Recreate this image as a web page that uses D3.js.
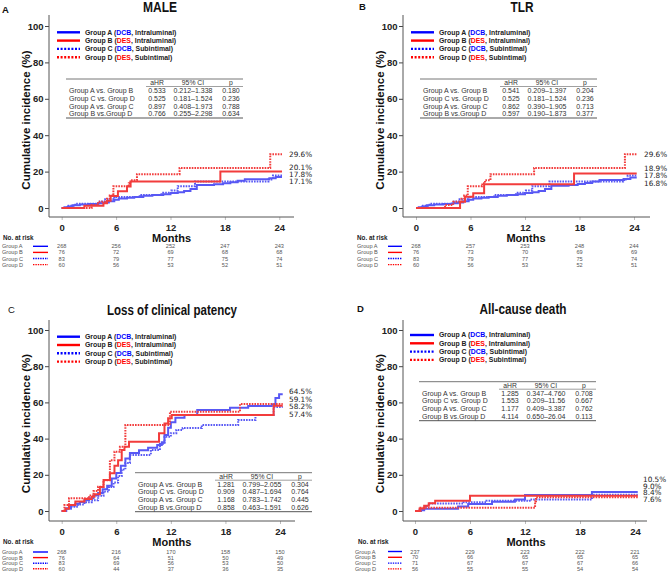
<!DOCTYPE html>
<html><head><meta charset="utf-8">
<script src="https://cdn.jsdelivr.net/npm/d3@7"></script>
<style>body{margin:0;background:#fff}svg{display:block}</style>
</head><body>
<script>
// ---------------- DATA ----------------
const months = [0, 6, 12, 18, 24];
const yTicks = [0, 20, 40, 60, 80, 100];
const groups = ["Group A", "Group B", "Group C", "Group D"];
const legendDevice = ["DCB", "DES", "DCB", "DES"];
const legendRoute = ["Intraluminal", "Intraluminal", "Subintimal", "Subintimal"];
const tableHeader = ["aHR", "95% CI", "p"];
const panelTitles = ["MALE", "TLR", "Loss of clinical patency", "All-cause death"];
const panelLetters = ["A", "B", "C", "D"];

// step curves: [month, cumulative %]
const maleA = [[0,0],[0.3,0.4],[0.7,0.8],[1.2,1.5],[2.0,1.9],[3.0,2.2],[4.0,2.6],[4.6,3.0],[5.2,3.7],[5.8,4.5],[6.3,5.2],[7.2,5.6],[8.0,6.0],[9.0,6.7],[10.0,7.1],[11.0,7.5],[12.0,8.2],[12.8,8.6],[13.5,9.3],[14.2,10.4],[14.9,12.6],[16.8,13.0],[17.8,13.6],[18.6,14.2],[19.4,15.0],[20.2,15.8],[22.9,16.4],[23.6,17.1],[24.3,17.1]];
const maleB = [[0,0],[2.5,1.3],[4.6,2.6],[5.0,4.0],[5.4,6.6],[6.2,9.2],[7.2,11.8],[7.6,14.5],[17.5,20.1],[24.3,20.1]];
const maleC = [[0,0],[0.6,1.2],[1.5,2.4],[4.2,3.6],[4.8,4.8],[5.8,6.0],[8.6,7.2],[11.2,8.4],[12.1,9.6],[12.8,12.0],[14.7,14.5],[22.8,15.7],[23.3,17.8],[24.3,17.8]];
const maleD = [[0,0],[3.3,1.7],[4.0,3.4],[5.0,5.1],[5.3,6.8],[5.7,11.9],[7.4,13.6],[7.6,15.3],[8.3,18.6],[13.0,22.0],[23.0,29.6],[24.3,29.6]];

const tlrA = [[0,0],[0.3,0.4],[0.7,0.8],[1.2,1.5],[2.0,1.9],[3.0,2.2],[4.0,2.6],[4.6,3.0],[5.2,3.7],[5.8,4.5],[6.3,5.2],[7.2,5.6],[8.0,6.0],[9.0,6.7],[10.0,7.1],[11.0,7.5],[12.0,8.2],[12.8,8.6],[13.5,9.3],[14.2,10.4],[14.9,12.2],[16.8,12.6],[17.8,13.2],[18.6,13.8],[19.4,14.6],[20.2,15.4],[22.9,16.0],[23.6,16.8],[24.3,16.8]];
const tlrB = [[0,0],[4.85,3.5],[5.4,6.2],[6.3,8.1],[7.5,13.0],[17.4,18.9],[24.3,18.9]];
const tlrC = [[0,0],[0.6,1.2],[1.5,2.4],[4.2,3.6],[4.8,4.8],[5.8,6.0],[8.6,7.2],[11.2,8.4],[12.1,9.6],[12.8,12.0],[14.7,14.5],[22.8,15.7],[23.3,17.8],[24.3,17.8]];
const tlrD = [[0,0],[3.2,1.7],[4.1,3.4],[5.0,5.1],[5.3,6.8],[5.7,11.9],[7.3,13.6],[7.6,15.3],[8.2,18.6],[13.0,22.0],[23.0,29.6],[24.3,29.6]];

const lcpA = [[0,0],[0.5,1.5],[1.0,3.0],[1.5,4.0],[2.0,5.0],[2.5,6.0],[3.0,7.0],[3.5,8.5],[4.0,10.0],[4.5,12.0],[5.0,14.0],[5.5,18.0],[6.0,21.0],[6.5,25.0],[7.0,29.0],[7.5,32.0],[8.5,33.5],[9.5,35.0],[10.5,36.5],[11.0,38.0],[11.3,42.0],[11.7,46.0],[12.0,49.0],[12.5,51.5],[13.5,53.0],[14.9,55.8],[18.5,57.0],[20.5,58.0],[23.1,59.0],[23.5,62.4],[23.9,64.5],[24.3,64.5]];
const lcpB = [[0,0],[0.4,1.3],[0.8,3.3],[1.5,5.3],[2.5,6.6],[3.3,7.9],[3.6,9.2],[4.2,13.2],[4.6,17.1],[5.3,20.8],[5.8,25.0],[6.2,28.0],[6.6,33.7],[6.9,35.5],[7.4,38.3],[10.7,42.9],[11.3,48.4],[11.7,51.2],[12.1,53.0],[23.3,58.2],[24.3,58.2]];
const lcpC = [[0,0],[0.5,1.2],[1.0,2.4],[1.8,3.6],[2.5,4.8],[3.3,6.0],[4.0,8.4],[4.6,10.8],[5.2,13.3],[5.7,15.7],[6.2,19.3],[6.6,22.9],[7.0,26.5],[7.5,31.0],[9.8,33.7],[10.8,37.0],[11.3,41.0],[12.0,43.0],[12.6,44.8],[13.3,45.8],[15.4,47.5],[19.4,50.3],[21.3,53.0],[23.3,57.4],[24.3,57.4]];
const lcpD = [[0,0],[0.3,3.3],[0.8,7.0],[3.0,8.5],[3.5,11.0],[4.0,13.4],[4.6,17.0],[5.3,28.0],[5.8,32.8],[6.4,35.5],[7.0,47.5],[11.9,54.9],[19.6,59.1],[24.3,59.1]];

const deathA = [[0,0],[0.5,0.4],[1.0,1.3],[4.7,2.5],[5.8,3.8],[8.4,5.1],[10.9,6.4],[12.0,8.8],[19.3,10.5],[24.3,10.5]];
const deathB = [[0,0],[0.5,1.4],[1.0,2.9],[1.5,4.3],[2.2,5.7],[6.0,8.4],[24.3,8.4]];
const deathC = [[0,0],[0.8,1.4],[1.1,2.8],[1.5,4.2],[5.3,4.9],[7.8,5.6],[12.5,6.3],[19.3,9.0],[24.3,9.0]];
const deathD = [[0,0],[0.6,1.8],[13.1,5.4],[13.2,7.6],[24.3,7.6]];

// final cumulative incidence labels (A, B, C, D)
const maleEnd = [17.1, 20.1, 17.8, 29.6];
const tlrEnd = [16.8, 18.9, 17.8, 29.6];
const lcpEnd = [64.5, 58.2, 57.4, 59.1];
const deathEnd = [10.5, 8.4, 9.0, 7.6];

// hazard ratio tables
const hrRows = ["Group A vs. Group B", "Group C vs. Group D", "Group A vs. Group C", "Group B vs.Group D"];
const maleHR = [["0.533","0.212\u20131.338","0.180"],["0.525","0.181\u20131.524","0.236"],["0.897","0.408\u20131.973","0.788"],["0.766","0.255\u20132.298","0.634"]];
const tlrHR = [["0.541","0.209\u20131.397","0.204"],["0.525","0.181\u20131.524","0.236"],["0.862","0.390\u20131.905","0.713"],["0.597","0.190\u20131.873","0.377"]];
const lcpHR = [["1.281","0.799\u20132.055","0.304"],["0.909","0.487\u20131.694","0.764"],["1.168","0.783\u20131.742","0.445"],["0.858","0.463\u20131.591","0.626"]];
const deathHR = [["1.285","0.347\u20134.760","0.708"],["1.553","0.209\u201311.56","0.667"],["1.177","0.409\u20133.387","0.762"],["4.114","0.650\u201326.04","0.113"]];

// numbers at risk
const maleRisk = [[268,256,252,247,243],[76,72,69,68,68],[83,79,77,75,74],[60,56,53,52,51]];
const tlrRisk = [[268,257,253,248,244],[76,73,70,69,69],[83,79,77,75,74],[60,56,53,52,51]];
const lcpRisk = [[268,216,170,158,150],[76,64,51,50,49],[83,69,56,53,50],[60,44,37,36,35]];
const deathRisk = [[237,229,223,222,221],[70,66,65,65,65],[71,67,67,67,66],[56,55,55,54,54]];

// ---------------- STYLE / LAYOUT ----------------
const FONT = "'Liberation Sans', Arial, Helvetica, sans-serif";
const curveColor = ["#5858f4", "#f23c3c", "#5858f4", "#f23c3c"];
const legendColor = ["#0000ff", "#ff0000", "#0000ff", "#ff0000"];
const dashed = [false, false, true, true];
const deviceColor = {DCB: "#0000ff", DES: "#ff0000"};

const panels = [
  {curves:[maleA,maleB,maleC,maleD], ends:maleEnd, hr:maleHR, risk:maleRisk,
   axisX:49, x0:61.7, x1:279.3, y0:208, y100:26, top:15, bottom:217, right:294,
   titleX:160, titleY:12, titleLen:34, letterX:2, letterY:13, letterBold:true,
   legX0:57, legX1:80, legY:32.3, tableX:66, tableY:79,
   riskLabelX:2, symX0:33, symX1:48, riskTitleX:3, riskTitleY:239.5, riskY:248.3, riskGap:6.1,
   labelGap:7, labelDy:0, labelX:289},
  {curves:[tlrA,tlrB,tlrC,tlrD], ends:tlrEnd, hr:tlrHR, risk:tlrRisk,
   axisX:403, x0:416, x1:634, y0:208, y100:26, top:15, bottom:217, right:650,
   titleX:522, titleY:12, titleLen:23, letterX:359, letterY:10, letterBold:true,
   legX0:411, legX1:434, legY:32.3, tableX:420, tableY:79,
   riskLabelX:357, symX0:388, symX1:402, riskTitleX:357, riskTitleY:239.5, riskY:248.3, riskGap:6.1,
   labelGap:7.5, labelDy:0, labelX:644},
  {curves:[lcpA,lcpB,lcpC,lcpD], ends:lcpEnd, hr:lcpHR, risk:lcpRisk,
   axisX:49, x0:61.7, x1:280, y0:511, y100:330, top:320, bottom:521, right:295,
   titleX:172, titleY:315, titleLen:130, letterX:8, letterY:313, letterBold:false,
   legX0:57, legX1:80, legY:336.7, tableX:135, tableY:472.7,
   riskLabelX:2, symX0:33, symX1:48, riskTitleX:3, riskTitleY:544, riskY:554, riskGap:5.6,
   labelGap:7.5, labelDy:0, labelX:289},
  {curves:[deathA,deathB,deathC,deathD], ends:deathEnd, hr:deathHR, risk:deathRisk,
   axisX:403, x0:415, x1:635, y0:511, y100:330, top:320, bottom:521, right:647,
   titleX:523, titleY:314, titleLen:87, letterX:357, letterY:312, letterBold:true,
   legX0:410, legX1:434, legY:335, tableX:419, tableY:381.7,
   riskLabelX:355, symX0:388, symX1:402, riskTitleX:358, riskTitleY:544, riskY:553.5, riskGap:5.8,
   labelGap:6.6, labelDy:-5.5, labelX:643}
];

const svg = d3.select("body").append("svg").attr("width", 669).attr("height", 573)
  .style("font-family", FONT);
svg.append("rect").attr("width", 669).attr("height", 573).attr("fill", "#fff");

function spreadLabels(vals, ypos, gap) {
  const items = vals.map((v, i) => ({i, v, y: ypos(v)})).sort((a, b) => a.y - b.y);
  let clusters = items.map(it => ({items: [it], c: it.y}));
  let changed = true;
  while (changed) {
    changed = false;
    for (let k = 0; k < clusters.length - 1; k++) {
      const a = clusters[k], b = clusters[k + 1];
      const aBot = a.c + (a.items.length - 1) * gap / 2;
      const bTop = b.c - (b.items.length - 1) * gap / 2;
      if (bTop - aBot < gap) {
        const its = a.items.concat(b.items);
        clusters.splice(k, 2, {items: its, c: d3.mean(its, d => d.y)});
        changed = true; break;
      }
    }
  }
  clusters.forEach(cl => cl.items.forEach((it, j) => { it.pos = cl.c + (j - (cl.items.length - 1) / 2) * gap; }));
  return items;
}

panels.forEach((p, pi) => {
  const g = svg.append("g");
  const x = d3.scaleLinear().domain([0, 24]).range([p.x0, p.x1]);
  const y = d3.scaleLinear().domain([0, 100]).range([p.y0, p.y100]);

  // title and letter
  g.append("text").attr("x", p.titleX).attr("y", p.titleY).attr("text-anchor", "middle")
    .attr("font-size", 14).attr("font-weight", "bold").attr("fill", "#111")
    .attr("textLength", p.titleLen).attr("lengthAdjust", "spacingAndGlyphs").text(panelTitles[pi]);
  g.append("text").attr("x", p.letterX).attr("y", p.letterY).attr("font-size", 9.5)
    .attr("font-weight", p.letterBold ? "bold" : "normal").attr("fill", "#111").text(panelLetters[pi]);

  // axes
  const ya = g.append("g").attr("transform", `translate(${p.axisX},0)`)
    .call(d3.axisLeft(y).tickValues(yTicks).tickSize(4).tickPadding(1.5));
  ya.select(".domain").remove();
  ya.selectAll("line").attr("stroke", "#444");
  ya.selectAll("text").attr("font-size", 9.5).attr("font-weight", "bold").attr("fill", "#222").attr("font-family", FONT);
  g.append("line").attr("x1", p.axisX).attr("x2", p.axisX).attr("y1", p.top).attr("y2", p.bottom)
    .attr("stroke", "#555").attr("stroke-width", 1);

  const xa = g.append("g").attr("transform", `translate(0,${p.bottom})`)
    .call(d3.axisBottom(x).tickValues(months).tickSize(3).tickPadding(4.5));
  xa.select(".domain").remove();
  xa.selectAll("line").attr("stroke", "#bbb");
  xa.selectAll("text").attr("font-size", 9.5).attr("font-weight", "bold").attr("fill", "#222").attr("font-family", FONT);
  g.append("line").attr("x1", p.axisX).attr("x2", p.right).attr("y1", p.bottom).attr("y2", p.bottom)
    .attr("stroke", "#555").attr("stroke-width", 1);

  // axis titles
  const yc = (p.y0 + p.y100) / 2 + 3;
  g.append("text").attr("transform", `translate(${p.axisX - 19},${yc}) rotate(-90)`)
    .attr("text-anchor", "middle").attr("font-size", 11.5).attr("font-weight", "bold").attr("fill", "#111")
    .text("Cumulative incidence (%)");
  g.append("text").attr("x", (p.x0 + p.x1) / 2 + 1).attr("y", p.bottom + 25).attr("text-anchor", "middle")
    .attr("font-size", 11).attr("font-weight", "bold").attr("fill", "#111").text("Months");

  // curves
  const line = d3.line().x(d => x(d[0])).y(d => y(d[1])).curve(d3.curveStepAfter);
  [2, 0, 3, 1].forEach(k => {
    g.append("path").attr("d", line(p.curves[k])).attr("fill", "none")
      .attr("stroke", curveColor[k]).attr("stroke-width", 2)
      .attr("stroke-dasharray", dashed[k] ? "1.6,1.1" : null);
  });

  // end labels
  const labs = spreadLabels(p.ends, v => y(v), p.labelGap);
  labs.forEach(it => {
    g.append("text").attr("x", p.labelX).attr("y", it.pos + p.labelDy).attr("dy", "0.35em")
      .attr("font-size", 7.3).attr("font-family", "'DejaVu Sans', sans-serif").attr("fill", "#222")
      .text(it.v.toFixed(1) + "%");
  });

  // legend
  groups.forEach((gr, k) => {
    const ly = p.legY + k * 8.3;
    g.append("line").attr("x1", p.legX0).attr("x2", p.legX1).attr("y1", ly).attr("y2", ly)
      .attr("stroke", legendColor[k]).attr("stroke-width", 2.4)
      .attr("stroke-dasharray", dashed[k] ? "2,1.6" : null);
    const t = g.append("text").attr("x", p.legX1 + 5).attr("y", ly).attr("dy", "0.35em")
      .attr("font-size", 6.9).attr("font-weight", "bold").attr("fill", "#222");
    t.append("tspan").text(gr + " (");
    t.append("tspan").attr("fill", deviceColor[legendDevice[k]]).text(legendDevice[k]);
    t.append("tspan").text(", " + legendRoute[k] + ")");
  });

  // HR table
  const tx = p.tableX, ty = p.tableY, tw = 177;
  const colX = [tx + 91, tx + 127, tx + 165];
  g.append("line").attr("x1", tx).attr("x2", tx + tw).attr("y1", ty).attr("y2", ty).attr("stroke", "#777").attr("stroke-width", 1);
  tableHeader.forEach((h, j) => {
    g.append("text").attr("x", colX[j]).attr("y", ty + 3.6).attr("dy", "0.35em").attr("text-anchor", "middle")
      .attr("font-size", 6.8).attr("fill", "#333").text(h);
  });
  g.append("line").attr("x1", tx + 80).attr("x2", tx + tw).attr("y1", ty + 7.5).attr("y2", ty + 7.5).attr("stroke", "#888").attr("stroke-width", 0.8);
  hrRows.forEach((r, i) => {
    const ry = ty + 11.5 + i * 7.8;
    g.append("text").attr("x", tx + 3).attr("y", ry).attr("dy", "0.35em").attr("font-size", 7)
      .attr("fill", "#333").text(r);
    p.hr[i].forEach((v, j) => {
      g.append("text").attr("x", colX[j]).attr("y", ry).attr("dy", "0.35em").attr("text-anchor", "middle")
        .attr("font-size", 7).attr("fill", "#333").text(v);
    });
  });
  g.append("line").attr("x1", tx).attr("x2", tx + tw).attr("y1", ty + 39).attr("y2", ty + 39).attr("stroke", "#555").attr("stroke-width", 1);

  // number at risk
  g.append("text").attr("x", p.riskTitleX).attr("y", p.riskTitleY).attr("font-size", 6.3)
    .attr("font-weight", "bold").attr("fill", "#222").text("No. at risk");
  groups.forEach((gr, k) => {
    const ry = p.riskY + k * p.riskGap;
    g.append("text").attr("x", p.riskLabelX).attr("y", ry).attr("font-size", 5.6)
      .attr("fill", "#555").text(gr);
    g.append("line").attr("x1", p.symX0).attr("x2", p.symX1).attr("y1", ry - 2).attr("y2", ry - 2)
      .attr("stroke", legendColor[k]).attr("stroke-width", 1.4)
      .attr("stroke-dasharray", dashed[k] ? "1.4,1" : null);
    p.risk[k].forEach((n, j) => {
      g.append("text").attr("x", x(months[j])).attr("y", ry).attr("text-anchor", "middle")
        .attr("font-size", 5.6).attr("fill", "#555").text(n);
    });
  });
});
</script>
</body></html>
